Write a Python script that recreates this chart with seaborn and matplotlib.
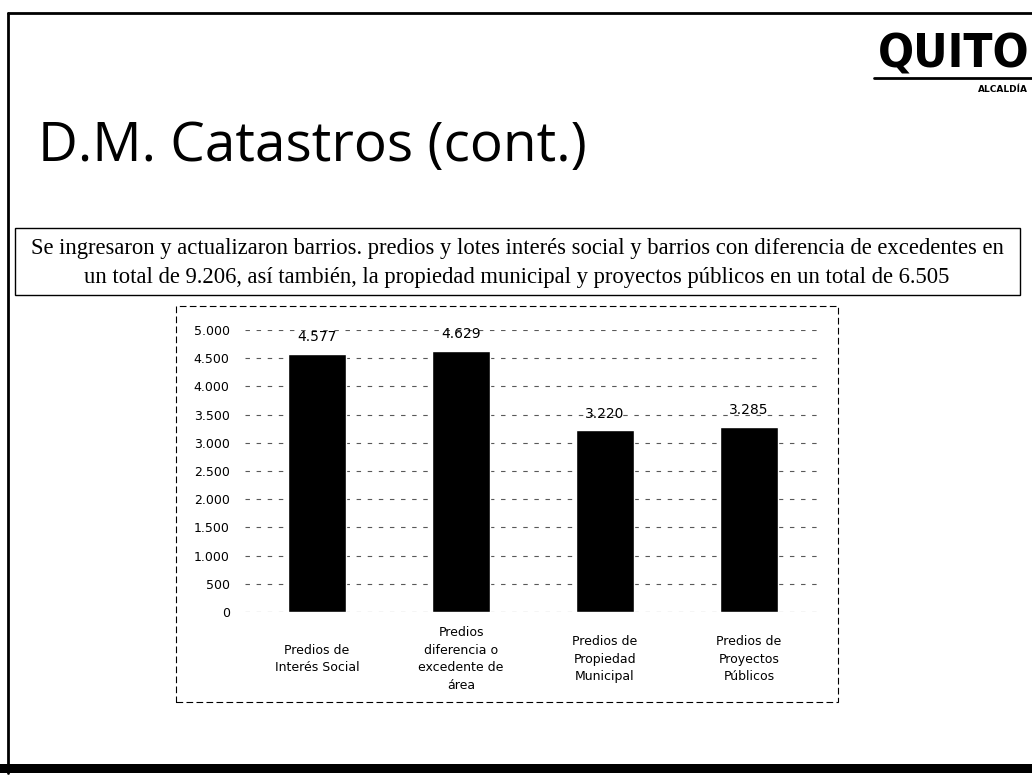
import matplotlib
matplotlib.use("Agg")
import matplotlib.pyplot as plt
import matplotlib.patches as mpatches
import matplotlib.lines as mlines
import matplotlib.ticker as mticker
import seaborn as sns
import pandas as pd

# data
categories = [
    "Predios de\nInterés Social",
    "Predios\ndiferencia o\nexcedente de\nárea",
    "Predios de\nPropiedad\nMunicipal",
    "Predios de\nProyectos\nPúblicos",
]
values = [4577, 4629, 3220, 3285]
y_ticks = list(range(0, 5001, 500))

title = "D.M. Catastros (cont.)"
summary = (
    "Se ingresaron y actualizaron barrios. predios y lotes interés social y barrios con diferencia de excedentes en\n"
    "un total de 9.206, así también, la propiedad municipal y proyectos públicos en un total de 6.505"
)

W, H = 1032, 778


def fx(px):
    return px / W


def fy(py):
    return 1 - py / H


def dotted(v):
    return f"{int(v):,}".replace(",", ".")


sns.set_theme(style="white")
plt.rcParams["font.family"] = ["DejaVu Sans"]

fig = plt.figure(figsize=(W / 100, H / 100), dpi=100)
fig.patch.set_facecolor("white")

# plot area (pixels measured on the reference)
ax = fig.add_axes([fx(245), fy(612), fx(821) - fx(245), fy(330) - fy(612)])
df = pd.DataFrame({"categoria": categories, "valor": values})
sns.barplot(data=df, x="categoria", y="valor", color="black", saturation=1,
            width=0.4, ax=ax)
ax.set_xlim(-0.5, 3.5)
ax.set_ylim(0, 5000)
ax.set_yticks(y_ticks)
ax.yaxis.set_major_formatter(mticker.FuncFormatter(lambda v, p: dotted(v)))
ax.set_xlabel("")
ax.set_ylabel("")
for s in ax.spines.values():
    s.set_visible(False)
ax.set_axisbelow(True)
ax.yaxis.grid(True, color="0.35", linestyle=(0, (4, 6)), linewidth=0.8)
ax.tick_params(axis="y", length=0, pad=11, labelsize=9, labelcolor="black")
ax.tick_params(axis="x", length=0, pad=34, labelsize=9, labelcolor="black")
for lab in ax.get_xticklabels():
    lab.set_va("center")
    lab.set_multialignment("center")
    lab.set_linespacing(1.45)

ax.bar_label(ax.containers[0], labels=[dotted(v) for v in values],
             padding=7, fontsize=10, color="black")

# dashed frame around the chart
fig.add_artist(mpatches.Rectangle((fx(176), fy(702)), fx(838) - fx(176), fy(306) - fy(702),
                                  transform=fig.transFigure, fill=False, edgecolor="black",
                                  linewidth=0.8, linestyle=(0, (6, 3))))

# text box with summary
fig.add_artist(mpatches.Rectangle((fx(15), fy(295)), fx(1020) - fx(15), fy(228) - fy(295),
                                  transform=fig.transFigure, fill=False, edgecolor="black",
                                  linewidth=1.0))
fig.text(fx(517), fy(263), summary, ha="center", va="center", fontsize=16.3,
         family=["Liberation Serif"], linespacing=1.55, color="black")

# slide title
fig.text(fx(38), fy(161), title, ha="left", va="baseline", fontsize=39.5,
         family=["Open Sans"], fontweight="normal", color="black")

# logo
fig.text(fx(1030), fy(67), "QUITO", ha="right", va="baseline", fontsize=34,
         family=["DejaVu Sans"], fontstretch="condensed", fontweight="heavy",
         color="black")
fig.add_artist(mlines.Line2D([fx(874), fx(1032)], [fy(78), fy(78)],
                             transform=fig.transFigure, color="black", linewidth=2))
fig.text(fx(1028), fy(90), "ALCALDÍA", ha="right", va="center", fontsize=6.5,
         fontweight="bold", color="black")

# slide borders and scanned bottom band
fig.add_artist(mlines.Line2D([fx(8), fx(1032)], [fy(13), fy(13)],
                             transform=fig.transFigure, color="black", linewidth=2))
fig.add_artist(mlines.Line2D([fx(8), fx(8)], [fy(13), fy(773)],
                             transform=fig.transFigure, color="black", linewidth=2))
fig.add_artist(mpatches.Rectangle((0, fy(773)), 1, fy(764) - fy(773),
                                  transform=fig.transFigure, color="black", linewidth=0))

fig.savefig("out.png", dpi=100)
